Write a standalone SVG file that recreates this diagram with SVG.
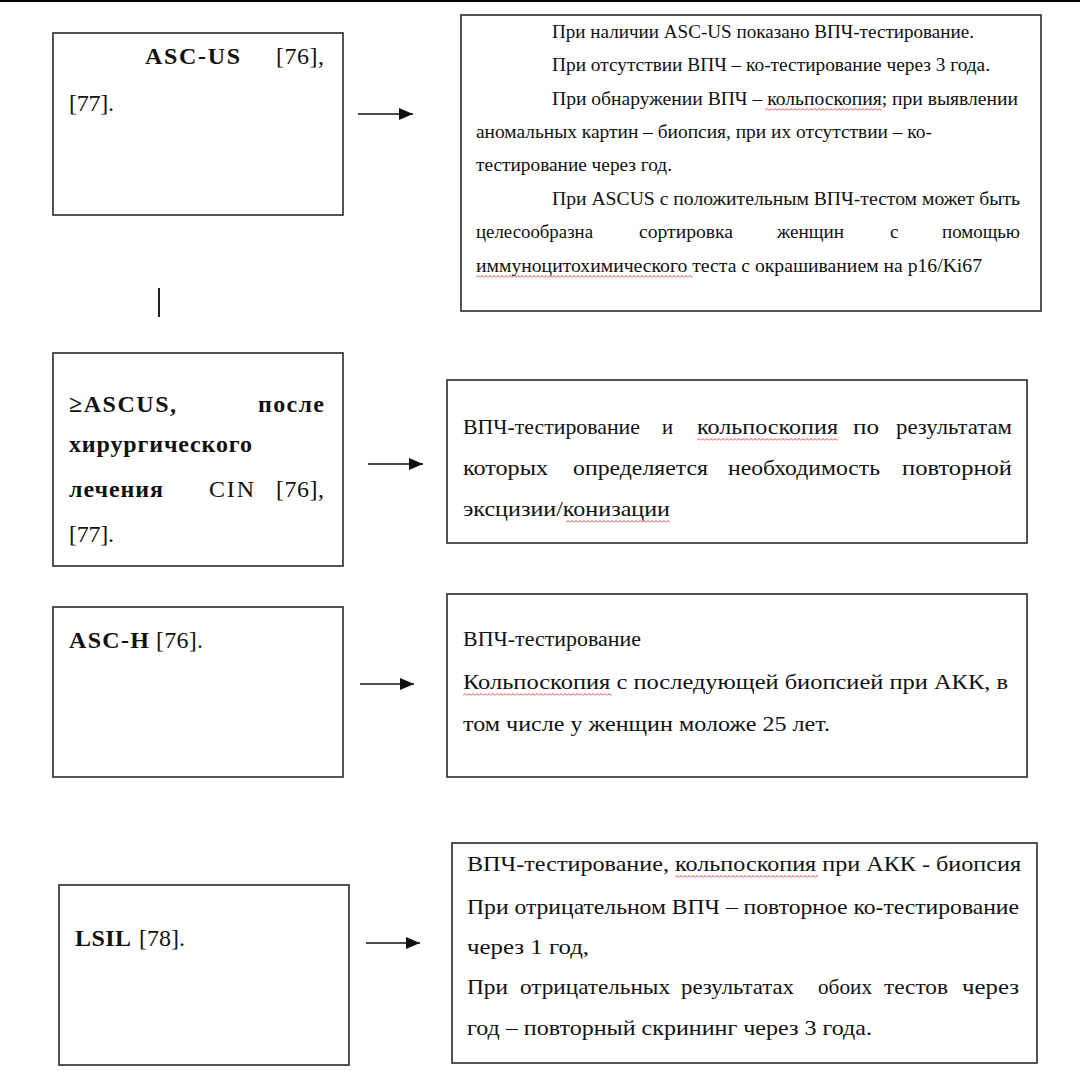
<svg xmlns="http://www.w3.org/2000/svg" width="1080" height="1080" viewBox="0 0 1080 1080">
<style>
.box{fill:#fff;stroke:#2a2a2a;stroke-width:1.6}
.t{font-family:"Liberation Serif","Times New Roman",serif;fill:#111}
.s{font-size:19px}
.m{font-size:22px}
.l{font-size:24px}
.b{font-weight:bold}
.conn{stroke:#111;stroke-width:1.4;fill:none}
.sq{fill:url(#wavy)}
</style>
<defs>
<marker id="ah" markerUnits="userSpaceOnUse" markerWidth="14" markerHeight="12" refX="14" refY="6" orient="auto">
<path d="M0,0 L14,6 L0,12 z" fill="#111"/>
</marker>
<pattern id="wavy" patternUnits="userSpaceOnUse" width="4" height="3">
<path d="M0,2.5 L2,0.5 L4,2.5" fill="none" stroke="#e03030" stroke-width="0.9"/>
</pattern>
</defs>
<rect width="1080" height="1080" fill="#fff"/>
<line x1="0" y1="1" x2="1080" y2="1" stroke="#000" stroke-width="2"/>

<g id="connectors">
<line class="conn" x1="358" y1="114" x2="413" y2="114" marker-end="url(#ah)"/>
<line class="conn" x1="368" y1="464" x2="423" y2="464" marker-end="url(#ah)"/>
<line class="conn" x1="360" y1="684" x2="414" y2="684" marker-end="url(#ah)"/>
<line class="conn" x1="366" y1="943" x2="420" y2="943" marker-end="url(#ah)"/>
<line x1="159" y1="288" x2="159" y2="317" stroke="#222" stroke-width="2"/>
</g>

<g id="n1-left">
<rect class="box" x="53" y="33" width="290" height="182"/>
<text class="t l b" x="145" y="64" textLength="95">ASC-US</text>
<text class="t l" x="276" y="64" textLength="48">[76],</text>
<text class="t l" x="69" y="111" textLength="45">[77].</text>
</g>

<g id="n1-right">
<rect class="box" x="461" y="15" width="580" height="296"/>
<text class="t s" x="552" y="38" textLength="422" lengthAdjust="spacingAndGlyphs">При наличии ASC-US показано ВПЧ-тестирование.</text>
<text class="t s" x="552" y="71" textLength="438" lengthAdjust="spacingAndGlyphs">При отсутствии ВПЧ – ко-тестирование через 3 года.</text>
<text class="t s" x="552" y="105" textLength="466" lengthAdjust="spacingAndGlyphs">При обнаружении ВПЧ – кольпоскопия; при выявлении</text>
<text class="t s" x="476" y="138" textLength="456" lengthAdjust="spacingAndGlyphs">аномальных картин – биопсия, при их отсутствии – ко-</text>
<text class="t s" x="476" y="171" textLength="196" lengthAdjust="spacingAndGlyphs">тестирование через год.</text>
<text class="t s" x="552" y="205" textLength="468" lengthAdjust="spacingAndGlyphs">При ASCUS с положительным ВПЧ-тестом может быть</text>
<text class="t s" y="238"><tspan x="476" textLength="117" lengthAdjust="spacingAndGlyphs">целесообразна</tspan><tspan x="639" textLength="94" lengthAdjust="spacingAndGlyphs">сортировка</tspan><tspan x="777" textLength="67" lengthAdjust="spacingAndGlyphs">женщин</tspan><tspan x="890">с</tspan><tspan x="942" textLength="78" lengthAdjust="spacingAndGlyphs">помощью</tspan></text>
<text class="t s" x="476" y="272" textLength="506" lengthAdjust="spacingAndGlyphs">иммуноцитохимического теста с окрашиванием на p16/Ki67</text>
<g transform="translate(765,108)"><rect class="sq" width="117" height="3"/></g>
<g transform="translate(476,275)"><rect class="sq" width="217" height="3"/></g>
</g>

<g id="n2-left">
<rect class="box" x="53" y="353" width="290" height="213"/>
<text class="t l b" x="69" y="412" textLength="107">≥ASCUS,</text>
<text class="t l b" x="258" y="412" textLength="66">после</text>
<text class="t l b" x="69" y="452" textLength="183">хирургического</text>
<text class="t l b" x="69" y="497" textLength="94">лечения</text>
<text class="t l" x="209" y="497" textLength="45">CIN</text>
<text class="t l" x="276" y="497" textLength="48">[76],</text>
<text class="t l" x="69" y="542" textLength="45">[77].</text>
</g>

<g id="n2-right">
<rect class="box" x="447" y="380" width="580" height="163"/>
<text class="t m" y="434"><tspan x="463" textLength="177" lengthAdjust="spacingAndGlyphs">ВПЧ-тестирование</tspan><tspan x="662" textLength="11" lengthAdjust="spacingAndGlyphs">и</tspan><tspan x="697" textLength="141" lengthAdjust="spacingAndGlyphs">кольпоскопия</tspan><tspan x="853" textLength="26" lengthAdjust="spacingAndGlyphs">по</tspan><tspan x="896" textLength="116" lengthAdjust="spacingAndGlyphs">результатам</tspan></text>
<text class="t m" y="475"><tspan x="463" textLength="85" lengthAdjust="spacingAndGlyphs">которых</tspan><tspan x="573" textLength="135" lengthAdjust="spacingAndGlyphs">определяется</tspan><tspan x="728" textLength="152" lengthAdjust="spacingAndGlyphs">необходимость</tspan><tspan x="902" textLength="110" lengthAdjust="spacingAndGlyphs">повторной</tspan></text>
<text class="t m" x="463" y="516" textLength="207" lengthAdjust="spacingAndGlyphs">эксцизии/конизации</text>
<g transform="translate(697,438)"><rect class="sq" width="141" height="3"/></g>
<g transform="translate(566,520)"><rect class="sq" width="104" height="3"/></g>
</g>

<g id="n3-left">
<rect class="box" x="53" y="607" width="290" height="170"/>
<text class="t l b" x="69" y="648" textLength="80">ASC-H</text>
<text class="t l" x="156" y="648" textLength="47">[76].</text>
</g>

<g id="n3-right">
<rect class="box" x="447" y="594" width="580" height="183"/>
<text class="t m" x="463" y="646" textLength="178" lengthAdjust="spacingAndGlyphs">ВПЧ-тестирование</text>
<text class="t m" x="463" y="689" textLength="545" lengthAdjust="spacingAndGlyphs">Кольпоскопия с последующей биопсией при АКК, в</text>
<text class="t m" x="463" y="731" textLength="367" lengthAdjust="spacingAndGlyphs">том числе у женщин моложе 25 лет.</text>
<g transform="translate(463,693)"><rect class="sq" width="149" height="3"/></g>
</g>

<g id="n4-left">
<rect class="box" x="59" y="885" width="290" height="180"/>
<text class="t l b" x="75" y="946" textLength="56">LSIL</text>
<text class="t l" x="139" y="946" textLength="46">[78].</text>
</g>

<g id="n4-right">
<rect class="box" x="452" y="843" width="585" height="220"/>
<text class="t m" x="467" y="871" textLength="554" lengthAdjust="spacingAndGlyphs">ВПЧ-тестирование, кольпоскопия при АКК - биопсия</text>
<text class="t m" x="467" y="914" textLength="552" lengthAdjust="spacingAndGlyphs">При отрицательном ВПЧ – повторное ко-тестирование</text>
<text class="t m" x="467" y="954" textLength="122" lengthAdjust="spacingAndGlyphs">через 1 год,</text>
<text class="t m" y="994"><tspan x="467" textLength="41" lengthAdjust="spacingAndGlyphs">При</tspan><tspan x="520" textLength="150" lengthAdjust="spacingAndGlyphs">отрицательных</tspan><tspan x="681" textLength="113" lengthAdjust="spacingAndGlyphs">результатах</tspan><tspan x="818" textLength="54" lengthAdjust="spacingAndGlyphs">обоих</tspan><tspan x="884" textLength="64" lengthAdjust="spacingAndGlyphs">тестов</tspan><tspan x="962" textLength="57" lengthAdjust="spacingAndGlyphs">через</tspan></text>
<text class="t m" x="467" y="1035" textLength="405" lengthAdjust="spacingAndGlyphs">год – повторный скрининг через 3 года.</text>
<g transform="translate(675,875)"><rect class="sq" width="143" height="3"/></g>
</g>
</svg>
